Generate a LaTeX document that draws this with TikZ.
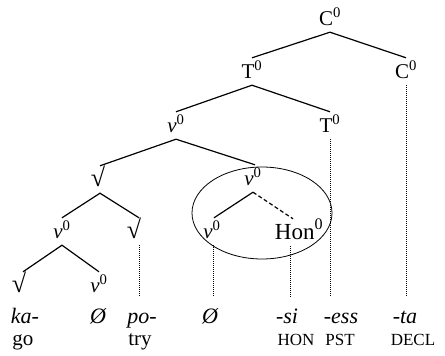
\documentclass[tikz,border=0pt]{standalone}
\usepackage{fontspec}
\setmainfont{Liberation Serif}
\usepackage{tikz}
\usetikzlibrary{shapes.geometric}

\newcommand{\zsup}{\textsuperscript{0}}
\newcommand{\nuz}{{\itshape ν}\zsup}
\newcommand{\rt}{{\fontsize{26}{28}\selectfont √}}

\begin{document}
\begin{tikzpicture}[x=1pt,y=-1pt,
	lab/.style={anchor=base,inner xsep=0pt,inner ysep=7pt,text height=13pt,text depth=0pt,font=\fontsize{21}{24}\selectfont},
	word/.style={anchor=base,inner xsep=0pt,inner ysep=13pt,text height=13pt,text depth=0pt,font=\fontsize{22}{24}\selectfont\itshape},
	gloss/.style={anchor=base,inner sep=0pt,font=\fontsize{21}{24}\selectfont},
	tag/.style={anchor=base,inner sep=0pt,font=\fontsize{17}{20}\selectfont},
	branch/.style={line width=1.2pt},
	dotline/.style={line width=1pt,dash pattern=on 1pt off 1pt},
	dashline/.style={line width=1.2pt,dash pattern=on 4pt off 2.5pt}]
	\useasboundingbox (0,0) rectangle (445,356);
	% tree labels
	\node[lab] (c1) at (330,25) {C\zsup};
	\node[lab] (t1) at (252,78) {T\zsup};
	\node[lab] (c2) at (406,78) {C\zsup};
	\node[lab] (v1) at (176,132) {\nuz};
	\node[lab] (t2) at (330,132) {T\zsup};
	\node[lab] (r1) at (98,186) {\rt};
	\node[lab] (v2) at (253,185) {\nuz};
	\node[lab] (v3) at (62,238) {\nuz};
	\node[lab] (r2) at (134,238) {\rt};
	\node[lab] (v4) at (212,238) {\nuz};
	\node[lab,font=\fontsize{23}{26}\selectfont] (hon) at (299,239) {Hon\zsup};
	\node[lab] (r3) at (19,292) {\rt};
	\node[lab] (v5) at (99,292) {\nuz};
	% words
	\node[word] (ka) at (25,323) {ka-};
	\node[word] (z1) at (98,323) {Ø};
	\node[word] (po) at (142,323) {po-};
	\node[word] (z2) at (210,323) {Ø};
	\node[word] (si) at (287,323) {-si};
	\node[word] (ess) at (341,323) {-ess};
	\node[word] (ta) at (405,323) {-ta};
	% glosses
	\node[gloss] (go) at (23,345) {go};
	\node[gloss] (try) at (140,345) {try};
	\node[tag] (HON) at (296,345) {HON};
	\node[tag] (PST) at (340,345) {PST};
	\node[tag] (DECL) at (413,345) {DECL};
	% circled complex head
	\node[draw,ellipse,line width=0.8pt,minimum width=140pt,minimum height=92pt] (hoop) at (262,213) {};
	% branches
	\draw[branch] (t1.north) -- (c1.south) -- (c2.north);
	\draw[branch] (v1.north) -- (t1.south) -- (t2.north);
	\draw[branch] ([xshift=2pt]r1.north) -- (v1.south) -- ([xshift=2pt]v2.north);
	\draw[branch] (v3.north) -- ([xshift=2pt]r1.south) -- ([xshift=5pt]r2.north);
	\draw[branch] ([xshift=2pt]v4.north) -- (v2.south);
	\draw[dashline] (v2.south) -- ([xshift=-6pt]hon.north);
	\draw[branch] ([xshift=4pt]r3.north) -- (v3.south) -- (v5.north);
	% dotted links to the morphemes
	\draw[dotline] (c2.south) -- (c2.south |- ta.north);
	\draw[dotline] (t2.south) -- (t2.south |- ess.north);
	\draw[dotline] ([xshift=5pt]r2.south) -- ([xshift=5pt]r2.south |- po.north);
	\draw[dotline] ([xshift=1pt]v4.south) -- ([xshift=1pt]v4.south |- z2.north);
	\draw[dotline] ([xshift=-9pt]hon.south) -- ([xshift=-9pt]hon.south |- si.north);
\end{tikzpicture}
\end{document}
